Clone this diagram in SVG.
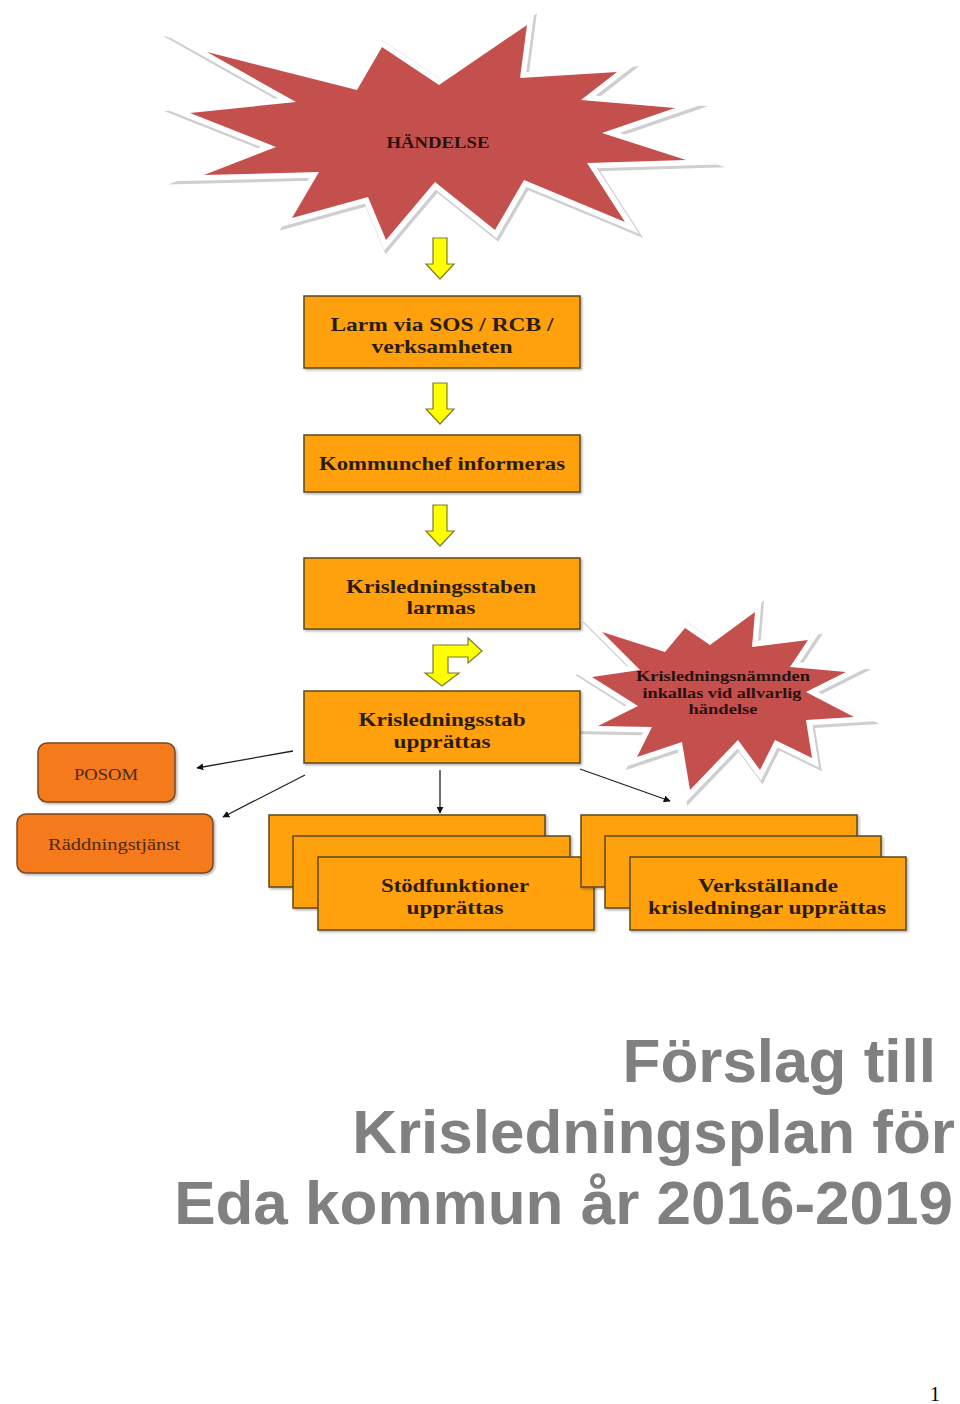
<svg xmlns="http://www.w3.org/2000/svg" width="960" height="1404" viewBox="0 0 960 1404">
<defs>
<style>
.box{fill:#FFA00D;stroke:#5e4a1e;stroke-width:1.5}
.rbox{fill:#F57A1E;stroke:#7a4a22;stroke-width:1.5}
.bt{font-family:"Liberation Serif","Times New Roman",serif;font-weight:bold;font-size:19px;fill:#2b1d0e;text-anchor:middle}
.rt{font-family:"Liberation Serif","Times New Roman",serif;font-size:16px;fill:#4a2a12;text-anchor:middle}
.st{font-family:"Liberation Serif","Times New Roman",serif;font-weight:bold;fill:#2b1010;text-anchor:middle}
.ya{fill:#FFFF00;stroke:#7d7d2a;stroke-width:1.2;stroke-linejoin:miter}
.ln{stroke:#222;stroke-width:1.3;fill:none}
.title{font-family:"Liberation Sans",Arial,sans-serif;font-weight:bold;font-size:62px;fill:#808080;text-anchor:end}
.starsh{fill:none;stroke:#cfcfcf;stroke-width:13;stroke-linejoin:miter;stroke-miterlimit:20}
.starwh{fill:none;stroke:#ffffff;stroke-width:11;stroke-linejoin:miter;stroke-miterlimit:20}
.starrd{fill:#C4504E}
</style>
<marker id="ah" viewBox="0 0 10 10" refX="9" refY="5" markerWidth="7" markerHeight="7" orient="auto-start-reverse" markerUnits="userSpaceOnUse">
<path d="M0,0 L10,5 L0,10 z" fill="#111"/>
</marker>
<filter id="sh" x="-5%" y="-5%" width="115%" height="120%">
<feDropShadow dx="1.5" dy="1.5" stdDeviation="1" flood-color="#000" flood-opacity="0.3"/>
</filter>
<polygon id="star1" points="207,52 357,90 382,47 439,85 527,25 520,78 617,72 581,100 675,108 602,133 686,160 587,163 625,222 524,180 495,230 435,182 386,240 368,197 292,218 319,172 204,175 276,147 190,113 296,102"/>
<polygon id="star2" points="602,632 665,652 685,628 710,645 755,612 752,647 808,640 790,667 846,672 806,692 854,717 806,720 812,758 775,740 760,770 738,740 690,790 682,742 637,757 652,727 598,726 638,706 592,677 640,670"/>
</defs>
<rect width="960" height="1404" fill="#ffffff"/>

<g id="handelse">
<use href="#star1" class="starsh" transform="translate(1.5,2)"/>
<use href="#star1" class="starwh"/>
<use href="#star1" class="starrd"/>
<text class="st" x="438" y="148" font-size="16" textLength="103" lengthAdjust="spacingAndGlyphs">HÄNDELSE</text>
</g>

<g id="connectors">
<polygon class="ya" points="433,238 447,238 447,264 454,264 440,279 426,264 433,264"/>
<polygon class="ya" points="433,383 447,383 447,409 454,409 440,424 426,409 433,409"/>
<polygon class="ya" points="433,505 447,505 447,531 454,531 440,546 426,531 433,531"/>
<polygon class="ya" points="433,645 468,645 468,638 482,651 468,663 468,657 448,657 448,673 459,673 442,686 425,673 433,673"/>
<line class="ln" x1="293" y1="751" x2="197" y2="768" marker-end="url(#ah)"/>
<line class="ln" x1="305" y1="775" x2="223" y2="817" marker-end="url(#ah)"/>
<line class="ln" x1="440" y1="770" x2="440" y2="813" marker-end="url(#ah)"/>
<line class="ln" x1="580" y1="769" x2="670" y2="801" marker-end="url(#ah)"/>
</g>

<g id="larm">
<rect class="box" x="304" y="296" width="276" height="72" filter="url(#sh)"/>
<text class="bt" x="442" y="331" textLength="223" lengthAdjust="spacingAndGlyphs">Larm via SOS / RCB /</text>
<text class="bt" x="442" y="353" textLength="141" lengthAdjust="spacingAndGlyphs">verksamheten</text>
</g>

<g id="kommunchef">
<rect class="box" x="304" y="435" width="276" height="57" filter="url(#sh)"/>
<text class="bt" x="442" y="470" textLength="246" lengthAdjust="spacingAndGlyphs">Kommunchef informeras</text>
</g>

<g id="krisledningsstaben">
<rect class="box" x="304" y="558" width="276" height="71" filter="url(#sh)"/>
<text class="bt" x="441" y="593" textLength="190" lengthAdjust="spacingAndGlyphs">Krisledningsstaben</text>
<text class="bt" x="441" y="614" textLength="69" lengthAdjust="spacingAndGlyphs">larmas</text>
</g>

<g id="namnden">
<use href="#star2" class="starsh" transform="translate(1.5,2)"/>
<use href="#star2" class="starwh"/>
<use href="#star2" class="starrd"/>
<text class="st" x="723" y="681" font-size="15" textLength="174" lengthAdjust="spacingAndGlyphs">Krisledningsnämnden</text>
<text class="st" x="722" y="698" font-size="15" textLength="159" lengthAdjust="spacingAndGlyphs">inkallas vid allvarlig</text>
<text class="st" x="723" y="714" font-size="15" textLength="69" lengthAdjust="spacingAndGlyphs">händelse</text>
</g>

<g id="krisledningsstab">
<rect class="box" x="304" y="691" width="276" height="72" filter="url(#sh)"/>
<text class="bt" x="442" y="726" textLength="167" lengthAdjust="spacingAndGlyphs">Krisledningsstab</text>
<text class="bt" x="442" y="748" textLength="97" lengthAdjust="spacingAndGlyphs">upprättas</text>
</g>

<g id="posom">
<rect class="rbox" x="38" y="743" width="137" height="59" rx="9" filter="url(#sh)"/>
<text class="rt" x="106" y="780" textLength="64" lengthAdjust="spacingAndGlyphs">POSOM</text>
</g>

<g id="raddningstjanst">
<rect class="rbox" x="17" y="814" width="196" height="59" rx="9" filter="url(#sh)"/>
<text class="rt" x="114" y="850" textLength="132" lengthAdjust="spacingAndGlyphs">Räddningstjänst</text>
</g>

<g id="stodfunktioner">
<rect class="box" x="269" y="815" width="276" height="72" filter="url(#sh)"/>
<rect class="box" x="293" y="836" width="277" height="72" filter="url(#sh)"/>
<rect class="box" x="318" y="857" width="276" height="73" filter="url(#sh)"/>
<text class="bt" x="455" y="892" textLength="148" lengthAdjust="spacingAndGlyphs">Stödfunktioner</text>
<text class="bt" x="455" y="914" textLength="97" lengthAdjust="spacingAndGlyphs">upprättas</text>
</g>

<g id="verkstallande">
<rect class="box" x="581" y="815" width="276" height="72" filter="url(#sh)"/>
<rect class="box" x="605" y="836" width="276" height="72" filter="url(#sh)"/>
<rect class="box" x="630" y="857" width="276" height="73" filter="url(#sh)"/>
<text class="bt" x="768" y="892" textLength="140" lengthAdjust="spacingAndGlyphs">Verkställande</text>
<text class="bt" x="767" y="914" textLength="238" lengthAdjust="spacingAndGlyphs">krisledningar upprättas</text>
</g>

<g id="title">
<text class="title" x="936" y="1082">Förslag till</text>
<text class="title" x="955" y="1153">Krisledningsplan för</text>
<text class="title" x="953" y="1224">Eda kommun år 2016-2019</text>
</g>
<text x="935" y="1401" font-family="Liberation Serif,'Times New Roman',serif" font-size="20" fill="#000" text-anchor="middle">1</text>
</svg>
